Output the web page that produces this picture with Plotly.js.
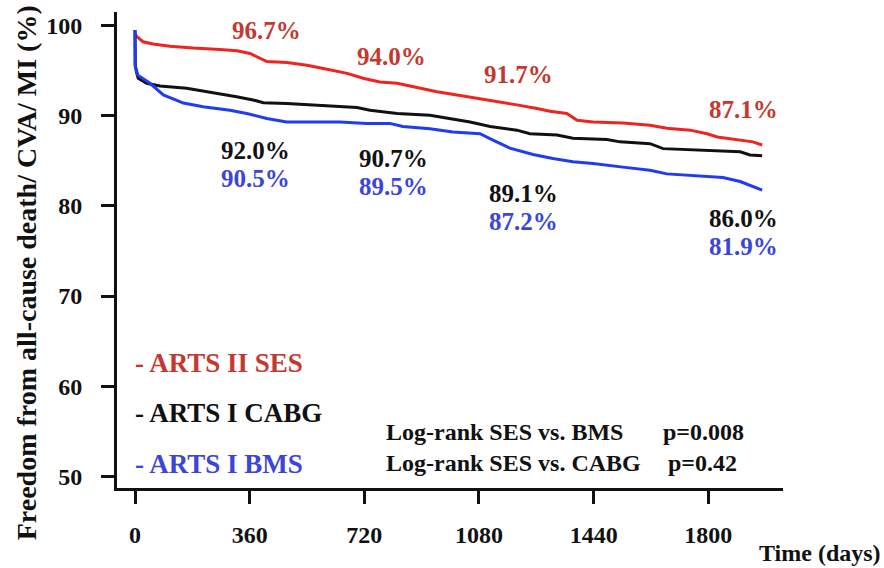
<!DOCTYPE html>
<html>
<head>
<meta charset="utf-8">
<script src="https://cdn.plot.ly/plotly-3.0.1.min.js"></script>
<style>html,body{margin:0;padding:0;background:#fff;}#chart{width:884px;height:568px;}</style>
</head>
<body>
<div id="chart"></div>
<script>
// ---- data (days, % free from death/CVA/MI) ----
const sesDays = [0, 5, 25, 57, 110, 182, 267, 320, 361, 392, 414, 477, 540, 603, 643, 666, 716, 769, 823, 873, 948, 1011, 1083, 1137, 1199, 1262, 1303, 1356, 1388, 1438, 1532, 1617, 1670, 1743, 1796, 1828, 1900, 1940, 1969];
const sesVals = [99.1, 98.8, 98.2, 97.95, 97.7, 97.5, 97.35, 97.2, 96.9, 96.4, 96.0, 95.9, 95.6, 95.15, 94.9, 94.7, 94.15, 93.75, 93.6, 93.2, 92.65, 92.3, 91.9, 91.55, 91.2, 90.8, 90.5, 90.25, 89.5, 89.3, 89.2, 88.95, 88.6, 88.4, 88.0, 87.65, 87.3, 87.1, 86.75];

const cabgDays = [0, 1, 5, 10, 37, 78, 162, 214, 267, 319, 371, 403, 476, 581, 643, 697, 738, 823, 926, 989, 1052, 1115, 1199, 1240, 1325, 1375, 1482, 1523, 1617, 1658, 1796, 1900, 1931, 1969];
const cabgVals = [99.5, 95.6, 94.8, 94.15, 93.6, 93.3, 93.05, 92.75, 92.4, 92.1, 91.75, 91.45, 91.35, 91.15, 91.0, 90.9, 90.6, 90.25, 90.05, 89.7, 89.3, 88.8, 88.4, 88.0, 87.85, 87.5, 87.35, 87.1, 86.9, 86.35, 86.15, 86.0, 85.65, 85.55];

const bmsDays = [0, 0.5, 9, 47, 89, 152, 214, 298, 351, 414, 476, 643, 728, 800, 841, 926, 998, 1052, 1083, 1124, 1177, 1250, 1312, 1375, 1438, 1532, 1617, 1670, 1743, 1846, 1900, 1969];
const bmsVals = [99.5, 95.5, 94.5, 93.6, 92.3, 91.4, 91.0, 90.6, 90.25, 89.7, 89.3, 89.3, 89.15, 89.15, 88.8, 88.55, 88.2, 88.05, 88.0, 87.3, 86.4, 85.7, 85.25, 84.9, 84.7, 84.3, 83.95, 83.55, 83.4, 83.15, 82.7, 81.75];

const xTicks = [0, 360, 720, 1080, 1440, 1800];
const yTicks = [50, 60, 70, 80, 90, 100];

// milestone labels
const sesLabelDays = [414, 804, 1203, 1912];
const sesLabelVals = [99.4, 96.6, 94.6, 90.7];
const sesLabels = ["96.7%", "94.0%", "91.7%", "87.1%"];
const cabgLabelDays = [377, 813, 1221, 1912];
const cabgLabelVals = [86.18, 85.3, 81.35, 78.58];
const cabgLabels = ["92.0%", "90.7%", "89.1%", "86.0%"];
const bmsLabelDays = [377, 813, 1221, 1912];
const bmsLabelVals = [83.02, 82.1, 78.25, 75.47];
const bmsLabels = ["90.5%", "89.5%", "87.2%", "81.9%"];

const seriesNames = ["- ARTS II SES", "- ARTS I CABG", "- ARTS I BMS"];
const statLines = ["Log-rank SES vs. BMS", "Log-rank SES vs. CABG"];
const pValues = ["p=0.008", "p=0.42"];

// ---- styles ----
const RED_LINE = "#ee2420", BLACK = "#111111", BLUE_LINE = "#1f3cf2";
const RED_TEXT = "#c4392f", BLUE_TEXT = "#3b45dc";
const FONT = "Liberation Serif, Times New Roman, serif";

const traces = [
  {x: sesDays, y: sesVals, name: seriesNames[0], mode: "lines", line: {color: RED_LINE, width: 3}},
  {x: cabgDays, y: cabgVals, name: seriesNames[1], mode: "lines", line: {color: BLACK, width: 3}},
  {x: bmsDays, y: bmsVals, name: seriesNames[2], mode: "lines", line: {color: BLUE_LINE, width: 3}}
];

const ann = [];
function lab(x, y, t, color, size, xanchor) {
  ann.push({x: x, y: y, xref: "x", yref: "y", text: t, showarrow: false,
    xanchor: xanchor || "center", yanchor: "middle", borderpad: 0,
    font: {family: FONT, size: size || 25, color: color, weight: "bold"}});
}
sesLabels.forEach((t, i) => lab(sesLabelDays[i], sesLabelVals[i], t, RED_TEXT, 25));
cabgLabels.forEach((t, i) => lab(cabgLabelDays[i], cabgLabelVals[i], t, BLACK, 25));
bmsLabels.forEach((t, i) => lab(bmsLabelDays[i], bmsLabelVals[i], t, BLUE_TEXT, 25));

lab(-3, 62.55, seriesNames[0], RED_TEXT, 27, "left");
lab(-3, 57.0, seriesNames[1], BLACK, 27, "left");
lab(-3, 51.35, seriesNames[2], BLUE_TEXT, 27, "left");

lab(785, 54.9, statLines[0], BLACK, 24, "left");
lab(785, 51.45, statLines[1], BLACK, 24, "left");
lab(1654, 54.9, pValues[0], BLACK, 24, "left");
lab(1670, 51.45, pValues[1], BLACK, 24, "left");

// axis titles as text
ann.push({xref: "paper", yref: "paper", x: -0.136, y: 0.452, text: "Freedom from all-cause death/ CVA/ MI (%)",
  textangle: -90, showarrow: false, xanchor: "center", yanchor: "middle",
  font: {family: FONT, size: 28, color: BLACK, weight: "bold"}});
ann.push({xref: "paper", yref: "paper", x: 1.1486, y: -0.137, text: "Time (days)",
  showarrow: false, xanchor: "right", yanchor: "middle", borderpad: 0,
  font: {family: FONT, size: 24, color: BLACK, weight: "bold"}});

const axisFont = {family: FONT, size: 24, color: BLACK, weight: "bold"};

const layout = {
  width: 884, height: 568,
  margin: {l: 117, r: 101, t: 12, b: 80},
  paper_bgcolor: "#ffffff", plot_bgcolor: "#ffffff",
  showlegend: false,
  xaxis: {range: [-56.5, 2034.5], showgrid: false, zeroline: false, showline: true,
    linecolor: BLACK, linewidth: 3, ticks: "outside", ticklen: 13, tickwidth: 3, tickcolor: BLACK,
    tickvals: xTicks, ticktext: xTicks.map(String), tickfont: axisFont, ticklabelstandoff: 10},
  yaxis: {range: [48.72, 101.5], showgrid: false, zeroline: false, showline: true,
    linecolor: BLACK, linewidth: 3, ticks: "outside", ticklen: 13, tickwidth: 3, tickcolor: BLACK,
    tickvals: yTicks, ticktext: yTicks.map(String), tickfont: axisFont, ticklabelstandoff: 14},
  annotations: ann
};

Plotly.newPlot("chart", traces, layout, {staticPlot: true, displayModeBar: false});
</script>
</body>
</html>
